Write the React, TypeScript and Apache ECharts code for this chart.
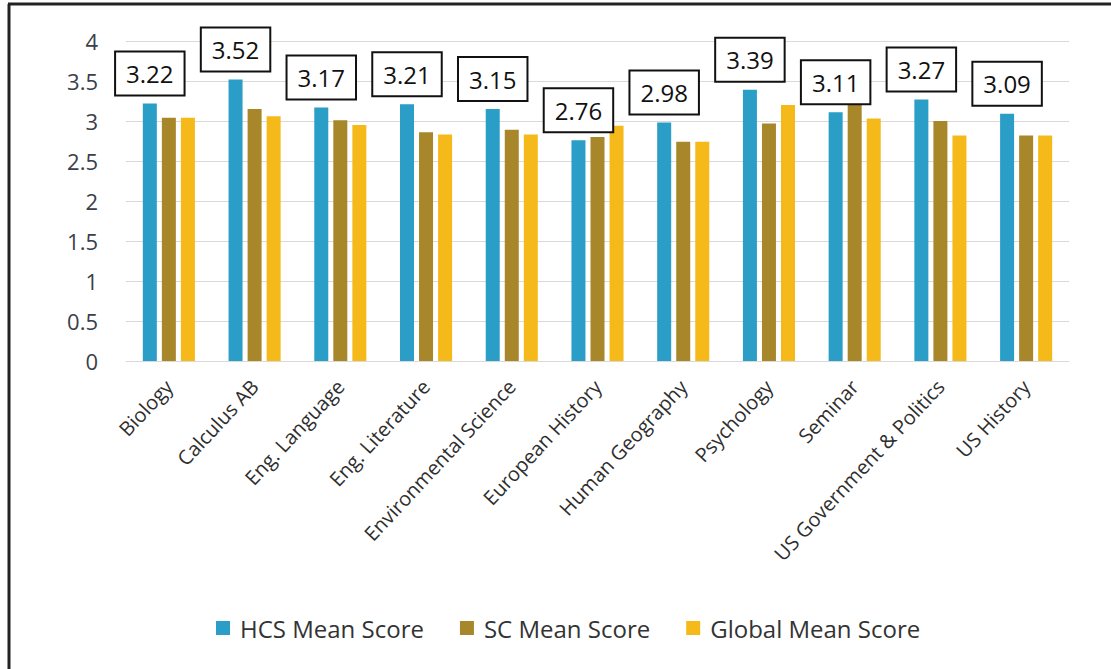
import React, { useEffect, useRef } from "react";
import * as echarts from "echarts";

const categories = [
  "Biology",
  "Calculus AB",
  "Eng. Language",
  "Eng. Literature",
  "Environmental Science",
  "European History",
  "Human Geography",
  "Psychology",
  "Seminar",
  "US Government & Politics",
  "US History",
];
const hcsMean = [3.22, 3.52, 3.17, 3.21, 3.15, 2.76, 2.98, 3.39, 3.11, 3.27, 3.09];
const scMean = [3.04, 3.15, 3.01, 2.86, 2.89, 2.8, 2.74, 2.97, 3.25, 3.0, 2.82];
const globalMean = [3.04, 3.06, 2.95, 2.83, 2.83, 2.94, 2.74, 3.2, 3.03, 2.82, 2.82];
const seriesNames = ["HCS Mean Score", "SC Mean Score", "Global Mean Score"];
const seriesColors = ["#2A9EC6", "#A8872A", "#F5B91A"];

const FONT = "'Open Sans', 'Noto Sans', sans-serif";

export default function App() {
  const ref = useRef<HTMLDivElement>(null);
  useEffect(() => {
    document.body.style.margin = "0";
    if (!ref.current) return;
    const chart = echarts.init(ref.current, undefined, { renderer: "svg" });
    const barBase = {
      type: "bar" as const,
      barWidth: 14,
      barGap: "36%",
    };
    chart.setOption({
      animation: false,
      backgroundColor: "#ffffff",
      textStyle: { fontFamily: FONT },
      grid: { left: 126, right: 42, top: 41, bottom: 308 },
      legend: {
        left: 211,
        top: 611,
        itemWidth: 14,
        itemHeight: 14,
        itemGap: 36,
        icon: "rect",
        data: seriesNames,
        textStyle: { fontSize: 24, color: "#333", fontFamily: FONT, padding: [0, 0, 0, 5] },
      },
      xAxis: {
        type: "category",
        data: categories,
        axisLine: { lineStyle: { color: "#d9d9d9", width: 1 } },
        axisTick: { show: false },
        axisLabel: {
          rotate: 47,
          interval: 0,
          fontSize: 20,
          margin: 22,
          color: "#2e2e2e",
          fontFamily: FONT,
        },
      },
      yAxis: {
        type: "value",
        min: 0,
        max: 4,
        interval: 0.5,
        axisLine: { show: false },
        axisTick: { show: false },
        splitLine: { lineStyle: { color: "#d9d9d9", width: 1 } },
        axisLabel: { fontSize: 22, color: "#3a3f4a", margin: 28, fontFamily: FONT },
      },
      series: [
        {
          ...barBase,
          name: seriesNames[0],
          data: hcsMean,
          itemStyle: { color: seriesColors[0] },
          z: 3,
          label: {
            show: true,
            position: "top",
            distance: 9,
            fontSize: 24,
            lineHeight: 26,
            color: "#111111",
            fontFamily: FONT,
            backgroundColor: "#ffffff",
            borderColor: "#111111",
            borderWidth: 2,
            padding: [8, 10, 8, 10],
            formatter: (p: any) => p.value.toFixed(2),
          },
        },
        {
          ...barBase,
          name: seriesNames[1],
          data: scMean,
          itemStyle: { color: seriesColors[1] },
          z: 2,
        },
        {
          ...barBase,
          name: seriesNames[2],
          data: globalMean,
          itemStyle: { color: seriesColors[2] },
          z: 2,
        },
      ],
      graphic: [
        {
          type: "line",
          shape: { x1: 8, y1: 4, x2: 1111, y2: 4 },
          style: { stroke: "#222", lineWidth: 3 },
          z: 100,
        },
        {
          type: "line",
          shape: { x1: 9, y1: 4, x2: 9, y2: 669 },
          style: { stroke: "#222", lineWidth: 3 },
          z: 100,
        },
      ],
    });
    return () => chart.dispose();
  }, []);
  return <div ref={ref} style={{ width: 1111, height: 669 }} />;
}
